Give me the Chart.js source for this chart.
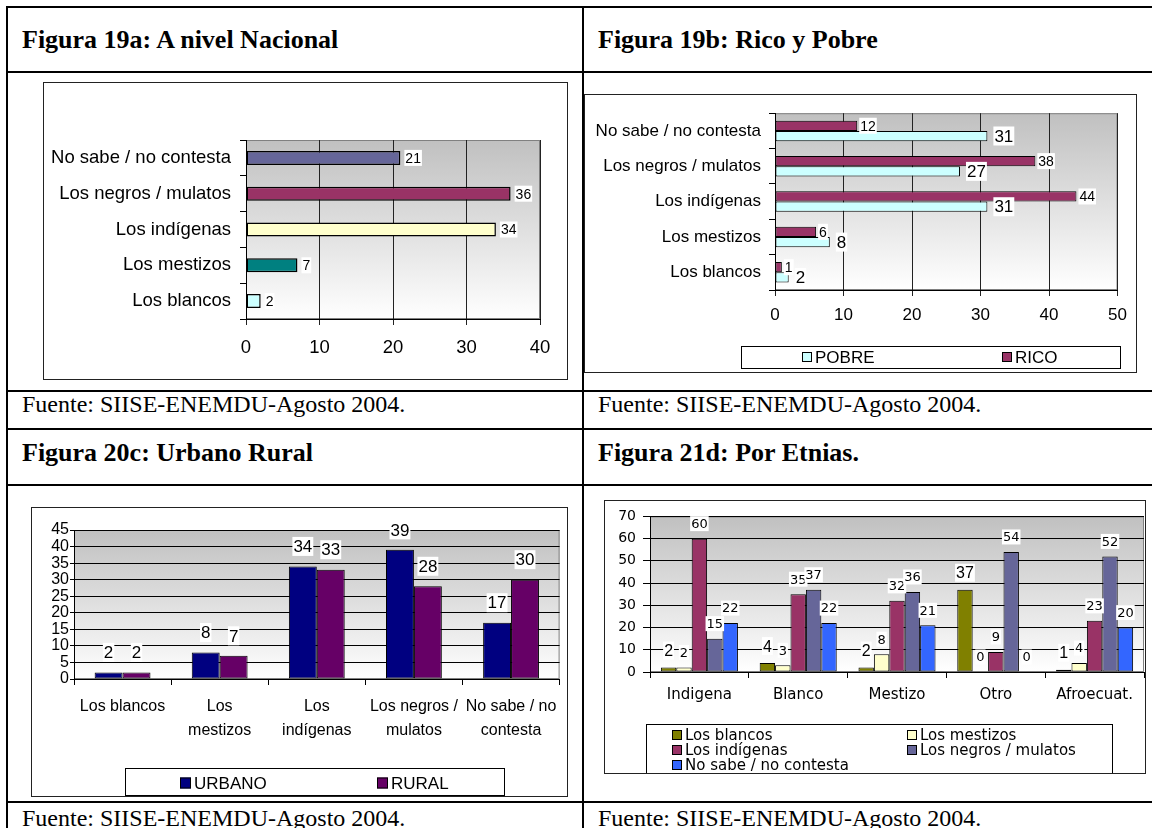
<!DOCTYPE html>
<html lang="es">
<head>
<meta charset="UTF-8">
<title>Figuras 19-21</title>
<style>
  body {
    margin: 0;
    background: #fff;
    width: 1152px;
    height: 828px;
    position: relative;
    overflow: hidden;
    font-family: "Liberation Sans", Arial, sans-serif;
  }
  .hl { position: absolute; left: 6px; right: 0; height: 2px; background: #000; }
  .vl { position: absolute; top: 6px; bottom: 0; width: 2px; background: #000; }
  .titulo {
    position: absolute;
    font: bold 26px/26px "Liberation Serif", "Times New Roman", serif;
    white-space: nowrap;
  }
  .fuente {
    position: absolute;
    font: 24px/24px "Liberation Serif", "Times New Roman", serif;
    white-space: nowrap;
  }
  .marco { position: absolute; border: 1px solid #222; box-sizing: border-box; background: #fff; }
  .marco canvas { display: block; }
</style>
</head>
<body>
  <div class="hl" style="top:6px"></div>
  <div class="hl" style="top:71px"></div>
  <div class="hl" style="top:390px"></div>
  <div class="hl" style="top:428px"></div>
  <div class="hl" style="top:484px"></div>
  <div class="hl" style="top:801px"></div>
  <div class="vl" style="left:6px"></div>
  <div class="vl" style="left:582px"></div>

  <div class="titulo" style="left:22px; top:27px">Figura 19a: A nivel Nacional</div>
  <div class="titulo" style="left:598px; top:27px">Figura 19b: Rico y Pobre</div>
  <div class="titulo" style="left:22px; top:440px">Figura 20c: Urbano Rural</div>
  <div class="titulo" style="left:598px; top:440px">Figura 21d: Por Etnias.</div>

  <div class="fuente" style="left:22px; top:392px">Fuente: SIISE-ENEMDU-Agosto 2004.</div>
  <div class="fuente" style="left:598px; top:392px">Fuente: SIISE-ENEMDU-Agosto 2004.</div>
  <div class="fuente" style="left:22px; top:806px">Fuente: SIISE-ENEMDU-Agosto 2004.</div>
  <div class="fuente" style="left:598px; top:806px">Fuente: SIISE-ENEMDU-Agosto 2004.</div>

  <div class="marco" style="left:43px; top:82px; width:525px; height:298px">
    <canvas id="figA" width="523" height="296"></canvas>
  </div>
  <div class="marco" style="left:584px; top:94px; width:553px; height:279px">
    <canvas id="figB" width="551" height="277"></canvas>
  </div>
  <div class="marco" style="left:31px; top:507px; width:537px; height:290px">
    <canvas id="figC" width="535" height="288"></canvas>
  </div>
  <div class="marco" style="left:604px; top:500px; width:542px; height:274px">
    <canvas id="figD" width="540" height="272"></canvas>
  </div>

  <script src="https://cdn.jsdelivr.net/npm/chart.js"></script>
  <script>
    // Figura 19a: A nivel Nacional
    const catNacional = ['No sabe / no contesta', 'Los negros / mulatos', 'Los indígenas', 'Los mestizos', 'Los blancos'];
    const valNacional = [21, 36, 34, 7, 2];
    const colNacional = ['#666699', '#993366', '#ffffcc', '#008080', '#ccffff'];

    // Figura 19b: Rico y Pobre
    const catRicoPobre = ['No sabe / no contesta', 'Los negros / mulatos', 'Los indígenas', 'Los mestizos', 'Los blancos'];
    const valRico = [12, 38, 44, 6, 1];
    const valPobre = [31, 27, 31, 8, 2];

    // Figura 20c: Urbano Rural
    const catUrbRur = [['Los blancos'], ['Los', 'mestizos'], ['Los', 'indígenas'], ['Los negros /', 'mulatos'], ['No sabe / no', 'contesta']];
    const valUrbano = [2, 8, 34, 39, 17];
    const valRural = [2, 7, 33, 28, 30];

    // Figura 21d: Por Etnias
    const catEtnias = ['Indigena', 'Blanco', 'Mestizo', 'Otro', 'Afroecuat.'];
    const serieBlancos = [2, 4, 2, 37, 1];
    const serieMestizos = [2, 3, 8, 0, 4];
    const serieIndigenas = [60, 35, 32, 9, 23];
    const serieNegros = [15, 37, 36, 54, 52];
    const serieNoSabe = [22, 22, 21, 0, 20];

    Chart.defaults.font.family = '"Liberation Sans", Arial, sans-serif';
    Chart.defaults.color = '#000';
    Chart.defaults.animation = false;
    Chart.defaults.plugins.legend.display = false;
    Chart.defaults.plugins.tooltip.enabled = false;

    // fondo degradado gris del area de trazado (estilo Excel)
    const fondoGris = {
      id: 'fondoGris',
      beforeDraw(chart) {
        const { ctx, chartArea: a } = chart;
        const g = ctx.createLinearGradient(0, a.top, 0, a.bottom);
        g.addColorStop(0, '#c0c0c0');
        g.addColorStop(1, '#ffffff');
        ctx.save();
        ctx.fillStyle = g;
        ctx.fillRect(a.left, a.top, a.right - a.left, a.bottom - a.top);
        ctx.strokeStyle = '#808080';
        ctx.lineWidth = 1;
        ctx.strokeRect(a.left + 0.5, a.top + 0.5, a.right - a.left - 1, a.bottom - a.top - 1);
        ctx.restore();
      }
    };

    // valores sobre las barras con fondo blanco
    const etiquetas = {
      id: 'etiquetas',
      afterDatasetsDraw(chart, args, o) {
        const ctx = chart.ctx;
        const horiz = chart.options.indexAxis === 'y';
        chart.data.datasets.forEach((ds, i) => {
          const meta = chart.getDatasetMeta(i);
          const f = o.fuentes[i];
          ctx.save();
          ctx.font = f.size + 'px ' + f.family;
          ctx.textBaseline = 'middle';
          ctx.textAlign = 'left';
          meta.data.forEach((bar, j) => {
            const txt = String(ds.data[j]);
            const w = ctx.measureText(txt).width;
            let x, y;
            if (horiz) { x = bar.x + f.offset; y = bar.y; }
            else { x = bar.x - w / 2; y = bar.y - f.offset; }
            ctx.fillStyle = '#fff';
            ctx.fillRect(x - 1, y - f.size / 2 - 1, w + 2, f.size + 2);
            ctx.fillStyle = '#000';
            ctx.fillText(txt, x, y + 1);
          });
          ctx.restore();
        });
      }
    };

    // leyenda en caja, posiciones fijas
    const leyenda = {
      id: 'leyenda',
      afterDraw(chart, args, o) {
        const ctx = chart.ctx;
        const [bx, by, bw, bh] = o.caja;
        ctx.save();
        ctx.fillStyle = '#fff';
        ctx.fillRect(bx, by, bw, bh);
        ctx.strokeStyle = '#000';
        ctx.lineWidth = 1;
        ctx.strokeRect(bx + 0.5, by + 0.5, bw - 1, bh - 1);
        ctx.font = o.fuente;
        ctx.textBaseline = 'middle';
        ctx.textAlign = 'left';
        const m = o.marca;
        o.orden.forEach((i, k) => {
          const ds = chart.data.datasets[i];
          const [x, y] = o.pos[k];
          ctx.fillStyle = ds.backgroundColor;
          ctx.fillRect(x, y - m / 2, m, m);
          ctx.strokeRect(x + 0.5, y - m / 2 + 0.5, m - 1, m - 1);
          ctx.fillStyle = '#000';
          ctx.fillText(ds.label, x + m + 3, y + 1);
        });
        ctx.restore();
      }
    };

    // Figura 19a
    new Chart(document.getElementById('figA'), {
      type: 'bar',
      data: {
        labels: catNacional,
        datasets: [{
          label: 'Nacional',
          data: valNacional,
          backgroundColor: colNacional,
          borderColor: '#000',
          borderWidth: 1.5,
          borderSkipped: false,
          categoryPercentage: 1,
          barPercentage: 0.39
        }]
      },
      options: {
        indexAxis: 'y',
        responsive: false,
        layout: { padding: { top: 57, right: 27, bottom: 0, left: 0 } },
        scales: {
          y: {
            grid: { drawOnChartArea: false, tickLength: 6, color: '#000' },
            border: { color: '#000' },
            ticks: { font: { size: 18.5 }, padding: 9 },
            afterFit: s => { s.width = 202; }
          },
          x: {
            min: 0, max: 40,
            ticks: { stepSize: 10, font: { size: 18.5 }, padding: 12 },
            grid: { tickLength: 6, color: '#222' },
            border: { color: '#000' },
            afterFit: s => { s.height = 60; }
          }
        },
        plugins: {
          etiquetas: { fuentes: [{ size: 14, family: '"Liberation Sans"', offset: 5 }] }
        }
      },
      plugins: [fondoGris, etiquetas]
    });

    // Figura 19b
    new Chart(document.getElementById('figB'), {
      type: 'bar',
      data: {
        labels: catRicoPobre,
        datasets: [
          { label: 'RICO', data: valRico, backgroundColor: '#993366', borderColor: '#000', borderWidth: 1, borderSkipped: false, categoryPercentage: 0.58, barPercentage: 1 },
          { label: 'POBRE', data: valPobre, backgroundColor: '#ccffff', borderColor: '#000', borderWidth: 1, borderSkipped: false, categoryPercentage: 0.58, barPercentage: 1 }
        ]
      },
      options: {
        indexAxis: 'y',
        responsive: false,
        layout: { padding: { top: 7, right: 5, bottom: 0, left: 0 } },
        scales: {
          y: {
            grid: { drawOnChartArea: false, tickLength: 6, color: '#000' },
            border: { color: '#000' },
            ticks: { font: { size: 17 }, padding: 8 },
            afterFit: s => { s.width = 190; }
          },
          x: {
            min: 0, max: 50,
            ticks: { stepSize: 10, font: { size: 17 }, padding: 9 },
            grid: { tickLength: 6, color: '#222' },
            border: { color: '#000' },
            afterFit: s => { s.height = 82; }
          }
        },
        plugins: {
          etiquetas: { fuentes: [
            { size: 14, family: '"Liberation Sans"', offset: 3 },
            { size: 17, family: '"Liberation Sans"', offset: 7 }
          ] },
          leyenda: { caja: [156, 251, 380, 23], orden: [1, 0], pos: [[217, 262], [417, 262]], marca: 10, fuente: '17px "Liberation Sans"' }
        }
      },
      plugins: [fondoGris, etiquetas, leyenda]
    });

    // Figura 20c
    new Chart(document.getElementById('figC'), {
      type: 'bar',
      data: {
        labels: catUrbRur,
        datasets: [
          { label: 'URBANO', data: valUrbano, backgroundColor: '#000080', borderColor: '#000', borderWidth: 1, borderSkipped: false, categoryPercentage: 0.575, barPercentage: 1 },
          { label: 'RURAL', data: valRural, backgroundColor: '#660066', borderColor: '#000', borderWidth: 1, borderSkipped: false, categoryPercentage: 0.575, barPercentage: 1 }
        ]
      },
      options: {
        responsive: false,
        layout: { padding: { top: 22, right: 6, bottom: 0, left: 0 } },
        scales: {
          x: {
            grid: { drawOnChartArea: false, tickLength: 6, color: '#000' },
            border: { color: '#000' },
            ticks: { font: { size: 16, lineHeight: 1.5 }, padding: 10, maxRotation: 0, autoSkip: false },
            afterFit: s => { s.height = 117; }
          },
          y: {
            min: 0, max: 45,
            ticks: { stepSize: 5, font: { size: 16 }, padding: 1, autoSkip: false },
            grid: { tickLength: 4, color: '#000' },
            border: { color: '#000' },
            afterFit: s => { s.width = 42; }
          }
        },
        plugins: {
          etiquetas: { fuentes: [
            { size: 17, family: '"Liberation Sans"', offset: 20 },
            { size: 17, family: '"Liberation Sans"', offset: 20 }
          ] },
          leyenda: { caja: [93, 260, 380, 28], orden: [0, 1], pos: [[148, 275], [345, 275]], marca: 11, fuente: '17px "Liberation Sans"' }
        }
      },
      plugins: [fondoGris, etiquetas, leyenda]
    });

    // Figura 21d
    const colEtnias = ['#808000', '#ffffcc', '#993366', '#666699', '#3366ff'];
    const nomEtnias = ['Los blancos', 'Los mestizos', 'Los indígenas', 'Los negros / mulatos', 'No sabe / no contesta'];
    const seriesEtnias = [serieBlancos, serieMestizos, serieIndigenas, serieNegros, serieNoSabe];

    new Chart(document.getElementById('figD'), {
      type: 'bar',
      data: {
        labels: catEtnias,
        datasets: seriesEtnias.map((d, i) => ({
          label: nomEtnias[i],
          data: d,
          backgroundColor: colEtnias[i],
          borderColor: '#000',
          borderWidth: 1,
          borderSkipped: false,
          categoryPercentage: 0.78,
          barPercentage: 1
        }))
      },
      options: {
        responsive: false,
        layout: { padding: { top: 13, right: 1, bottom: 0, left: 0 } },
        scales: {
          x: {
            grid: { drawOnChartArea: false, tickLength: 6, color: '#000' },
            border: { color: '#000' },
            ticks: { font: { size: 15, family: '"DejaVu Sans"' }, padding: 8, maxRotation: 0 },
            afterFit: s => { s.height = 101; }
          },
          y: {
            min: 0, max: 70,
            ticks: { stepSize: 10, font: { size: 14, family: '"DejaVu Sans"' }, padding: 7 },
            grid: { tickLength: 7, color: '#000' },
            border: { color: '#000' },
            afterFit: s => { s.width = 45; }
          }
        },
        plugins: {
          etiquetas: { fuentes: [
            { size: 16, family: '"Liberation Sans"', offset: 17 },
            { size: 13, family: '"DejaVu Sans"', offset: 15 },
            { size: 13, family: '"DejaVu Sans"', offset: 15 },
            { size: 13, family: '"DejaVu Sans"', offset: 15 },
            { size: 13, family: '"DejaVu Sans"', offset: 15 }
          ] },
          leyenda: {
            caja: [41, 223, 467, 50],
            orden: [0, 1, 2, 3, 4],
            pos: [[67, 234], [302, 234], [67, 249], [302, 249], [67, 264]],
            marca: 10,
            fuente: '15px "DejaVu Sans"'
          }
        }
      },
      plugins: [fondoGris, etiquetas, leyenda]
    });
  </script>
</body>
</html>
